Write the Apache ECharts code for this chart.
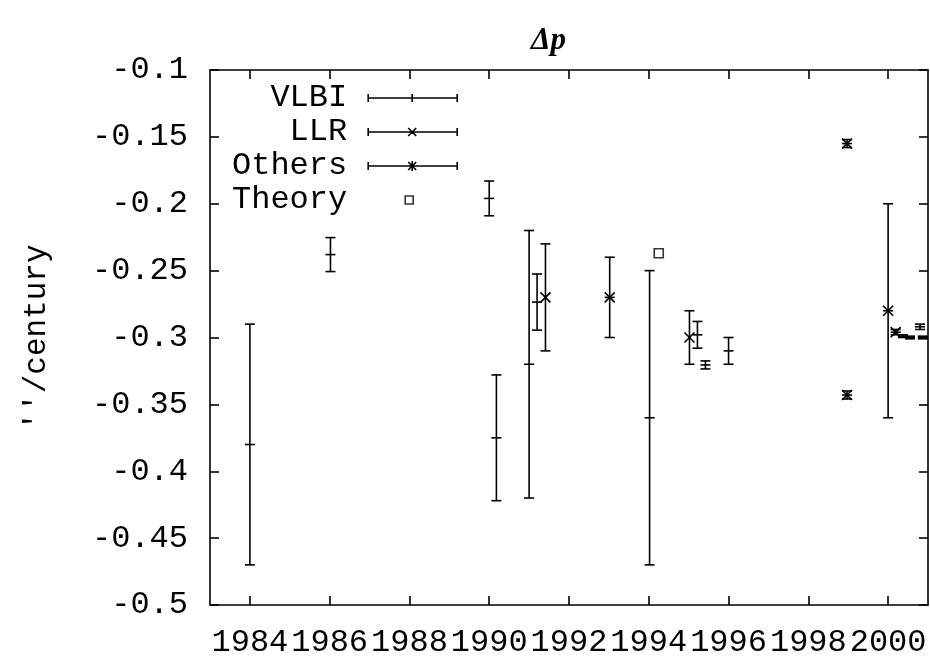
<!DOCTYPE html>
<html lang="en">
<head>
    <meta charset="UTF-8">
    <title>Δp</title>
    <style>
        html, body { margin: 0; padding: 0; background: #fff; }
    </style>
</head>
<body>
    <div id="chart-box" style="width:930px; height:659px"></div>

    <script src="https://cdn.jsdelivr.net/npm/echarts@6/dist/echarts.min.js"></script>
    <script>
        // x ticks and labels
        const yearTicks = [1984, 1986, 1988, 1990, 1992, 1994, 1996, 1998, 2000];

        // VLBI: year, value, half error bar
        const vlbiYear = [1984.0, 1986.02, 1990.0, 1990.18, 1991.0, 1991.2, 1994.02, 1995.22, 1995.42, 1996.0, 2000.37, 2000.55, 2000.8, 2000.87];
        const vlbiValue = [-0.38, -0.238, -0.196, -0.375, -0.32, -0.2735, -0.36, -0.298, -0.3205, -0.31, -0.299, -0.3, -0.292, -0.3];
        const vlbiErr = [0.09, 0.0127, 0.013, 0.047, 0.1, 0.021, 0.11, 0.01, 0.003, 0.01, 0.001, 0.001, 0.002, 0.001];

        // LLR
        const llrYear = [1991.41, 1995.02];
        const llrValue = [-0.27, -0.30];
        const llrErr = [0.04, 0.02];

        // Others
        const othersYear = [1993.02, 1998.97, 1998.97, 2000.0, 2000.19];
        const othersValue = [-0.27, -0.155, -0.343, -0.28, -0.296];
        const othersErr = [0.03, 0.003, 0.003, 0.08, 0.002];

        // Theory
        const theoryYear = [1994.25];
        const theoryValue = [-0.237];

        const toRows = (xs, ys, es) => xs.map((x, i) => [x, ys[i], ys[i] - es[i], ys[i] + es[i]]);

        const INK = '#000';
        const MONO = 'Liberation Mono';
        const lineStyle = { stroke: INK, lineWidth: 1.6 };

        // error bar + marker drawn at data coords
        const errorBar = (kind) => (params, api) => {
            const x = api.value(0);
            const c = api.coord([x, api.value(1)]);
            const lo = api.coord([x, api.value(2)]);
            const hi = api.coord([x, api.value(3)]);
            const cap = 5, m = 5;
            const seg = (x1, y1, x2, y2) => ({ type: 'line', shape: { x1, y1, x2, y2 }, style: lineStyle });
            const kids = [
                seg(c[0], hi[1], c[0], lo[1]),
                seg(c[0] - cap, hi[1], c[0] + cap, hi[1]),
                seg(c[0] - cap, lo[1], c[0] + cap, lo[1])
            ];
            if (kind === 'plus') {
                kids.push(seg(c[0] - m, c[1], c[0] + m, c[1]));
            } else if (kind === 'cross') {
                kids.push(seg(c[0] - m, c[1] - m, c[0] + m, c[1] + m));
                kids.push(seg(c[0] - m, c[1] + m, c[0] + m, c[1] - m));
            } else {
                kids.push(seg(c[0] - m, c[1] - m, c[0] + m, c[1] + m));
                kids.push(seg(c[0] - m, c[1] + m, c[0] + m, c[1] - m));
                kids.push(seg(c[0] - m, c[1], c[0] + m, c[1]));
            }
            return { type: 'group', children: kids };
        };

        // legend samples: gnuplot style line with caps and marker
        const base = 'path://M0,0M105,14M16,7L105,7M16,3L16,11M105,3L105,11';
        const icons = {
            VLBI: base + 'M60,3L60,11',
            LLR: base + 'M56,3L64,11M64,3L56,11',
            Others: base + 'M56,3L64,11M64,3L56,11M60,2L60,12',
            Theory: 'path://M0,0M105,14M53,3L61,3L61,11L53,11Z'
        };

        const chart = echarts.init(document.querySelector('#chart-box'));

        chart.setOption({
            animation: false,
            title: {
                text: 'Δp',
                left: 526,
                top: 20,
                textStyle: { fontFamily: 'Liberation Serif', fontStyle: 'italic', fontWeight: 'bold', fontSize: 31, color: INK }
            },
            legend: {
                orient: 'vertical',
                right: 472,
                top: 82,
                align: 'right',
                padding: 0,
                itemGap: 2,
                itemWidth: 105,
                itemHeight: 14,
                selectedMode: false,
                itemStyle: { color: 'rgba(0,0,0,0)', borderColor: INK, borderWidth: 1.6 },
                textStyle: { fontFamily: MONO, fontSize: 32, lineHeight: 30, color: INK },
                data: ['VLBI', 'LLR', 'Others', 'Theory'].map(n => ({ name: n, icon: icons[n] }))
            },
            grid: { left: 210, right: 2, top: 70, bottom: 54 },
            xAxis: [{
                type: 'value',
                min: 1983,
                max: 2001,
                axisLine: { lineStyle: { color: INK, width: 1.6 } },
                axisTick: { inside: true, length: 9, customValues: yearTicks, lineStyle: { color: INK, width: 1.6 } },
                axisLabel: {
                    customValues: yearTicks,
                    formatter: v => String(v),
                    margin: 22,
                    fontFamily: MONO, fontSize: 32, color: INK
                },
                splitLine: { show: false }
            }, {
                type: 'value',
                position: 'top',
                min: 1983,
                max: 2001,
                axisLine: { lineStyle: { color: INK, width: 1.6 } },
                axisTick: { inside: true, length: 9, customValues: yearTicks, lineStyle: { color: INK, width: 1.6 } },
                axisLabel: { show: false },
                splitLine: { show: false }
            }],
            yAxis: [{
                type: 'value',
                min: -0.5,
                max: -0.1,
                interval: 0.05,
                name: "''/century",
                nameLocation: 'middle',
                nameGap: 158,
                nameRotate: 90,
                nameTextStyle: { fontFamily: MONO, fontSize: 31, color: INK },
                axisLine: { show: true, lineStyle: { color: INK, width: 1.6 } },
                axisTick: { show: true, inside: true, length: 9, lineStyle: { color: INK, width: 1.6 } },
                axisLabel: {
                    formatter: v => String(+v.toFixed(2)),
                    margin: 22,
                    fontFamily: MONO, fontSize: 32, color: INK
                },
                splitLine: { show: false }
            }, {
                type: 'value',
                position: 'right',
                min: -0.5,
                max: -0.1,
                interval: 0.05,
                axisLine: { show: true, lineStyle: { color: INK, width: 1.6 } },
                axisTick: { show: true, inside: true, length: 9, lineStyle: { color: INK, width: 1.6 } },
                axisLabel: { show: false },
                splitLine: { show: false }
            }],
            series: [{
                name: 'VLBI',
                type: 'custom',
                itemStyle: { color: INK },
                encode: { x: 0, y: 1 },
                renderItem: errorBar('plus'),
                data: toRows(vlbiYear, vlbiValue, vlbiErr)
            }, {
                name: 'LLR',
                type: 'custom',
                itemStyle: { color: INK },
                encode: { x: 0, y: 1 },
                renderItem: errorBar('cross'),
                data: toRows(llrYear, llrValue, llrErr)
            }, {
                name: 'Others',
                type: 'custom',
                itemStyle: { color: INK },
                encode: { x: 0, y: 1 },
                renderItem: errorBar('star'),
                data: toRows(othersYear, othersValue, othersErr)
            }, {
                name: 'Theory',
                type: 'scatter',
                symbol: 'rect',
                symbolSize: 9,
                itemStyle: { color: 'rgba(0,0,0,0)', borderColor: INK, borderWidth: 1.6 },
                data: theoryYear.map((x, i) => [x, theoryValue[i]])
            }]
        });
    </script>
</body>
</html>
